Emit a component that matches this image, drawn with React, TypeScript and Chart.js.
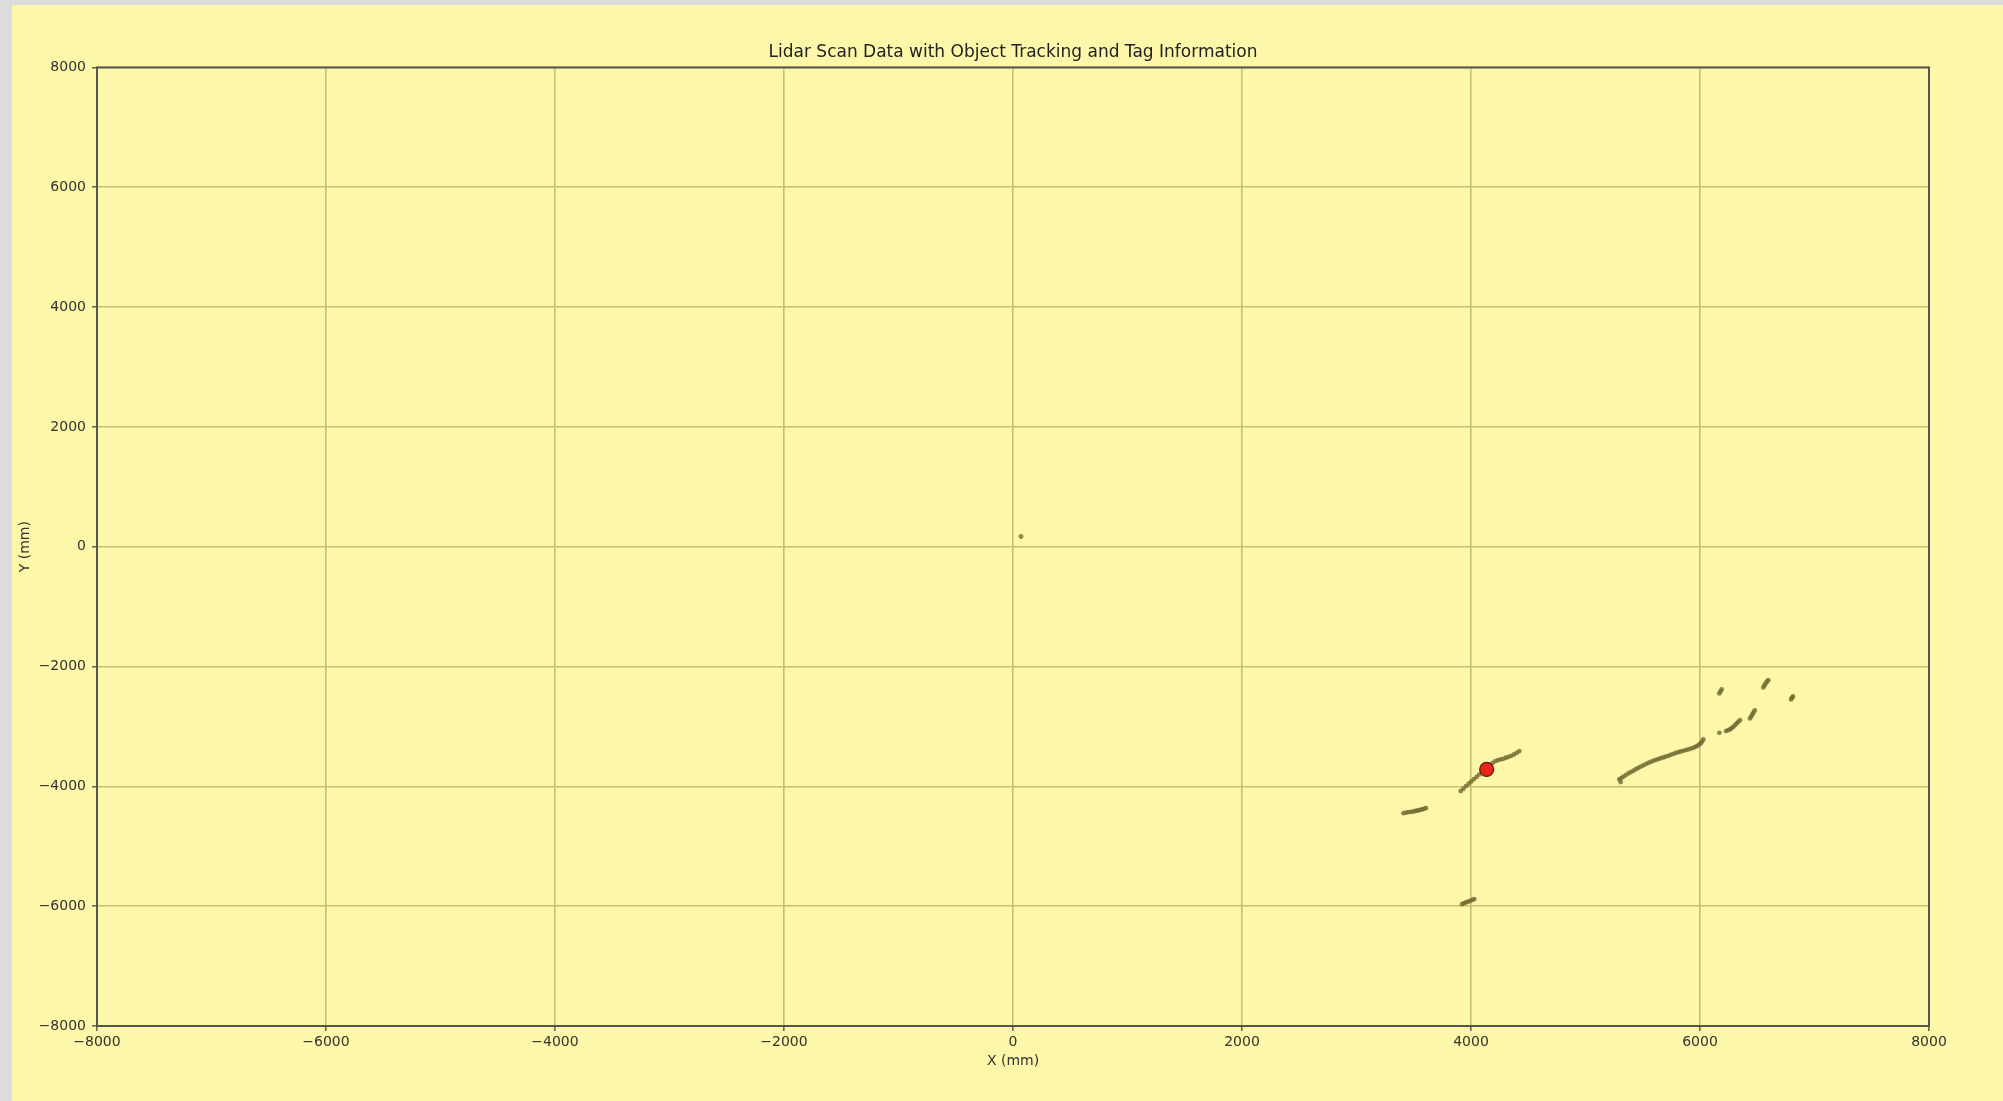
import React, { useEffect, useRef } from "react";
import { Chart, registerables } from "chart.js";

Chart.register(...registerables);

// Lidar scan returns (mm), grouped by the wall / object segment they belong to
const segmentOriginX = [70];
const segmentOriginY = [170];

const segmentAX = [3910, 3933, 3956, 3980, 4003, 4026, 4050, 4073, 4096, 4120, 4143, 4166, 4190, 4213, 4236, 4259, 4282, 4306, 4329, 4352, 4376, 4399, 4422];
const segmentAY = [-4079, -4040, -3996, -3957, -3918, -3879, -3840, -3801, -3762, -3724, -3684, -3645, -3607, -3579, -3562, -3551, -3540, -3523, -3507, -3490, -3467, -3440, -3412];

const segmentBX = [3410, 3432, 3454, 3476, 3498, 3517, 3536, 3553, 3571, 3589, 3606];
const segmentBY = [-4448, -4440, -4431, -4426, -4420, -4411, -4403, -4395, -4386, -4375, -4364];

const segmentCX = [3921, 3940, 3956, 3975, 3994, 4012, 4029];
const segmentCY = [-5966, -5950, -5938, -5925, -5910, -5895, -5882];

const segmentDX = [5307, 5295, 5312, 5330, 5352, 5374, 5396, 5418, 5440, 5461, 5483, 5505, 5527, 5549, 5570, 5592, 5614, 5636, 5658, 5680, 5701, 5723, 5745, 5767, 5789, 5811, 5832, 5854, 5876, 5898, 5920, 5942, 5960, 5977, 5992, 6006, 6018, 6029];
const segmentDY = [-3929, -3884, -3862, -3840, -3812, -3784, -3762, -3740, -3715, -3690, -3670, -3650, -3628, -3607, -3590, -3574, -3559, -3545, -3531, -3517, -3503, -3490, -3473, -3457, -3443, -3429, -3418, -3407, -3395, -3384, -3370, -3357, -3340, -3323, -3303, -3283, -3250, -3217];

const segmentEX = [6169, 6227, 6245, 6262, 6277, 6291, 6306, 6320, 6335, 6349];
const segmentEY = [-3106, -3078, -3064, -3050, -3028, -3006, -2978, -2950, -2922, -2895];

const segmentFX = [6437, 6447, 6457, 6468, 6478];
const segmentFY = [-2866, -2833, -2800, -2766, -2733];

const segmentGX = [6169, 6179, 6189];
const segmentGY = [-2449, -2415, -2382];

const segmentHX = [6553, 6563, 6573, 6585, 6596];
const segmentHY = [-2349, -2315, -2282, -2254, -2227];

const segmentIX = [6795, 6803, 6812];
const segmentIY = [-2549, -2524, -2499];

// Tracked object position (mm)
const trackedX = [4137];
const trackedY = [-3717];

const axisTicks = [-8000, -6000, -4000, -2000, 0, 2000, 4000, 6000, 8000];

const scanSegments = [
  [segmentOriginX, segmentOriginY],
  [segmentAX, segmentAY],
  [segmentBX, segmentBY],
  [segmentCX, segmentCY],
  [segmentDX, segmentDY],
  [segmentEX, segmentEY],
  [segmentFX, segmentFY],
  [segmentGX, segmentGY],
  [segmentHX, segmentHY],
  [segmentIX, segmentIY],
];

const toPoints = (xs: number[], ys: number[]) => xs.map((x, i) => ({ x, y: ys[i] }));

const scanPoints = scanSegments.flatMap(([xs, ys]) => toPoints(xs, ys));
const trackedPoints = toPoints(trackedX, trackedY);

const formatTick = (v: number | string) => {
  const n = Number(v);
  return n < 0 ? "\u2212" + Math.abs(n) : String(n);
};

const BG = "#fcf7a9";
const GRID = "#c9c06e";
const FRAME = "#555550";
const TEXT = "#33332f";
const FONT = "'DejaVu Sans', sans-serif";

const framePlugin = {
  id: "axesFrame",
  afterDraw(chart: Chart) {
    const { ctx, chartArea } = chart;
    ctx.save();
    ctx.strokeStyle = FRAME;
    ctx.lineWidth = 2;
    ctx.strokeRect(chartArea.left, chartArea.top, chartArea.right - chartArea.left, chartArea.bottom - chartArea.top);
    ctx.restore();
  },
};

export default function App() {
  const canvasRef = useRef<HTMLCanvasElement | null>(null);

  useEffect(() => {
    const canvas = canvasRef.current;
    if (!canvas) return;
    const chart = new Chart(canvas, {
      type: "scatter",
      data: {
        datasets: [
          {
            label: "Scan",
            data: scanPoints,
            pointRadius: 2.4,
            pointBorderWidth: 0,
            pointBackgroundColor: "rgba(112, 106, 48, 0.8)",
            pointBorderColor: "rgba(0,0,0,0)",
            order: 2,
          },
          {
            label: "Tracked object",
            data: trackedPoints,
            pointRadius: 7,
            pointBorderWidth: 1.2,
            pointBackgroundColor: "#ea2418",
            pointBorderColor: "#5a1a10",
            order: 1,
          },
        ],
      },
      options: {
        responsive: false,
        animation: false,
        events: [],
        layout: { padding: { left: 0, right: 74, top: 0, bottom: 0 } },
        plugins: {
          legend: { display: false },
          tooltip: { enabled: false },
          title: {
            display: true,
            fullSize: false,
            text: "Lidar Scan Data with Object Tracking and Tag Information",
            color: "#222",
            font: { family: FONT, size: 17, weight: "normal" },
            padding: { top: 37, bottom: 5 },
          },
        },
        scales: {
          x: {
            type: "linear",
            min: -8000,
            max: 8000,
            afterBuildTicks: (scale: any) => {
              scale.ticks = axisTicks.map((value) => ({ value }));
            },
            afterFit: (scale: any) => {
              scale.height = 75;
            },
            ticks: {
              color: TEXT,
              font: { family: FONT, size: 14 },
              padding: 3,
              maxRotation: 0,
              callback: (v: any) => formatTick(v),
            },
            grid: {
              color: GRID,
              lineWidth: 1.6,
              tickColor: FRAME,
              tickLength: 5,
              tickWidth: 1.4,
            },
            border: { display: false },
            title: {
              display: true,
              text: "X (mm)",
              color: TEXT,
              font: { family: FONT, size: 14 },
              padding: { top: 0, bottom: 31 },
            },
          },
          y: {
            type: "linear",
            min: -8000,
            max: 8000,
            afterBuildTicks: (scale: any) => {
              scale.ticks = axisTicks.map((value) => ({ value }));
            },
            afterFit: (scale: any) => {
              scale.width = 85;
            },
            ticks: {
              color: TEXT,
              font: { family: FONT, size: 14 },
              padding: 6,
              callback: (v: any) => formatTick(v),
            },
            grid: {
              color: GRID,
              lineWidth: 1.6,
              tickColor: FRAME,
              tickLength: 5,
              tickWidth: 1.4,
            },
            border: { display: false },
            title: {
              display: true,
              text: "Y (mm)",
              color: TEXT,
              font: { family: FONT, size: 14 },
              padding: { top: 5, bottom: 0 },
            },
          },
        },
      },
      plugins: [framePlugin],
    });
    return () => chart.destroy();
  }, []);

  return (
    <div style={{ position: "fixed", left: 0, top: 0, width: 2003, height: 1101, background: "#dcdcdc" }}>
      <div style={{ position: "absolute", left: 12, top: 5, width: 1991, height: 1096, background: BG }}>
        <canvas ref={canvasRef} width={1991} height={1096} style={{ display: "block" }} />
      </div>
    </div>
  );
}
